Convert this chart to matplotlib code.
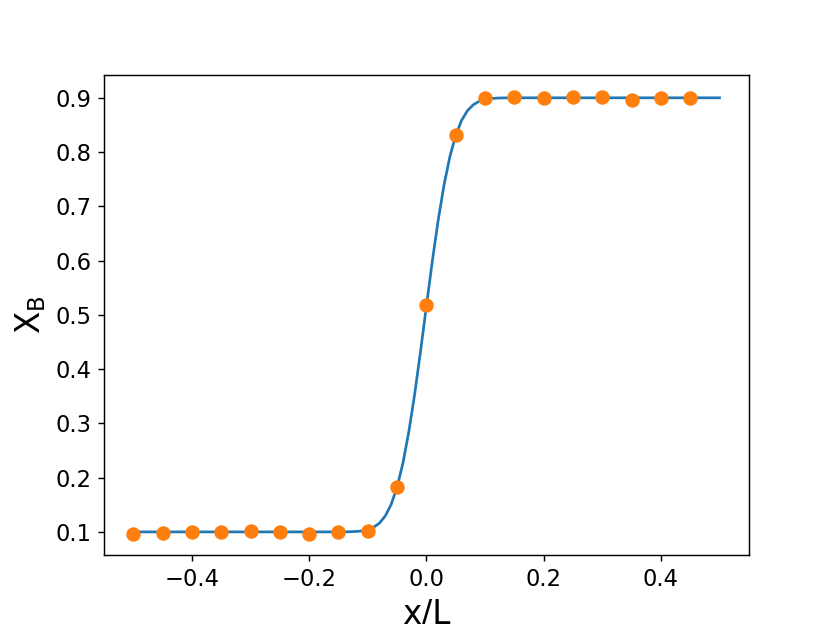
import numpy as np
import matplotlib.pyplot as plt

# profile curve
x_line = [-0.5, -0.3, -0.16, -0.15, -0.14, -0.13, -0.12, -0.11, -0.10, -0.09, -0.08,
          -0.07, -0.06, -0.05, -0.04, -0.03, -0.02, -0.01, 0.00, 0.01, 0.02,
          0.03, 0.04, 0.05, 0.06, 0.07, 0.08, 0.09, 0.10, 0.11, 0.12,
          0.13, 0.14, 0.15, 0.3, 0.5]
y_line = [0.1000, 0.1000, 0.1000, 0.1000, 0.1001, 0.1003, 0.1008, 0.1018, 0.1040, 0.1086, 0.1162,
          0.1296, 0.1510, 0.1828, 0.2270, 0.2845, 0.3539, 0.4328, 0.5159, 0.5982, 0.6737,
          0.7390, 0.7913, 0.8308, 0.8584, 0.8763, 0.8872, 0.8936, 0.8970, 0.8986, 0.8994,
          0.8998, 0.8999, 0.9000, 0.9000, 0.9000]

# sampled points
x_pts = [-0.5, -0.45, -0.4, -0.35, -0.3, -0.25, -0.2, -0.15, -0.1, -0.05,
         0.0, 0.05, 0.1, 0.15, 0.2, 0.25, 0.3, 0.35, 0.4, 0.45]
y_pts = [0.097, 0.098, 0.099, 0.099, 0.102, 0.099, 0.097, 0.100, 0.102, 0.182,
         0.519, 0.832, 0.899, 0.901, 0.899, 0.902, 0.901, 0.896, 0.900, 0.900]

fig, ax = plt.subplots(figsize=(6.4, 4.8), dpi=130)
ax.plot(x_line, y_line, color='C0')
ax.plot(x_pts, y_pts, 'o', color='C1', markersize=7)
ax.set_xlabel('x/L', fontsize=18)
ax.set_ylabel(r'$\mathrm{X_B}$', fontsize=18)
ax.tick_params(labelsize=12.5)
fig.savefig('out.png')
